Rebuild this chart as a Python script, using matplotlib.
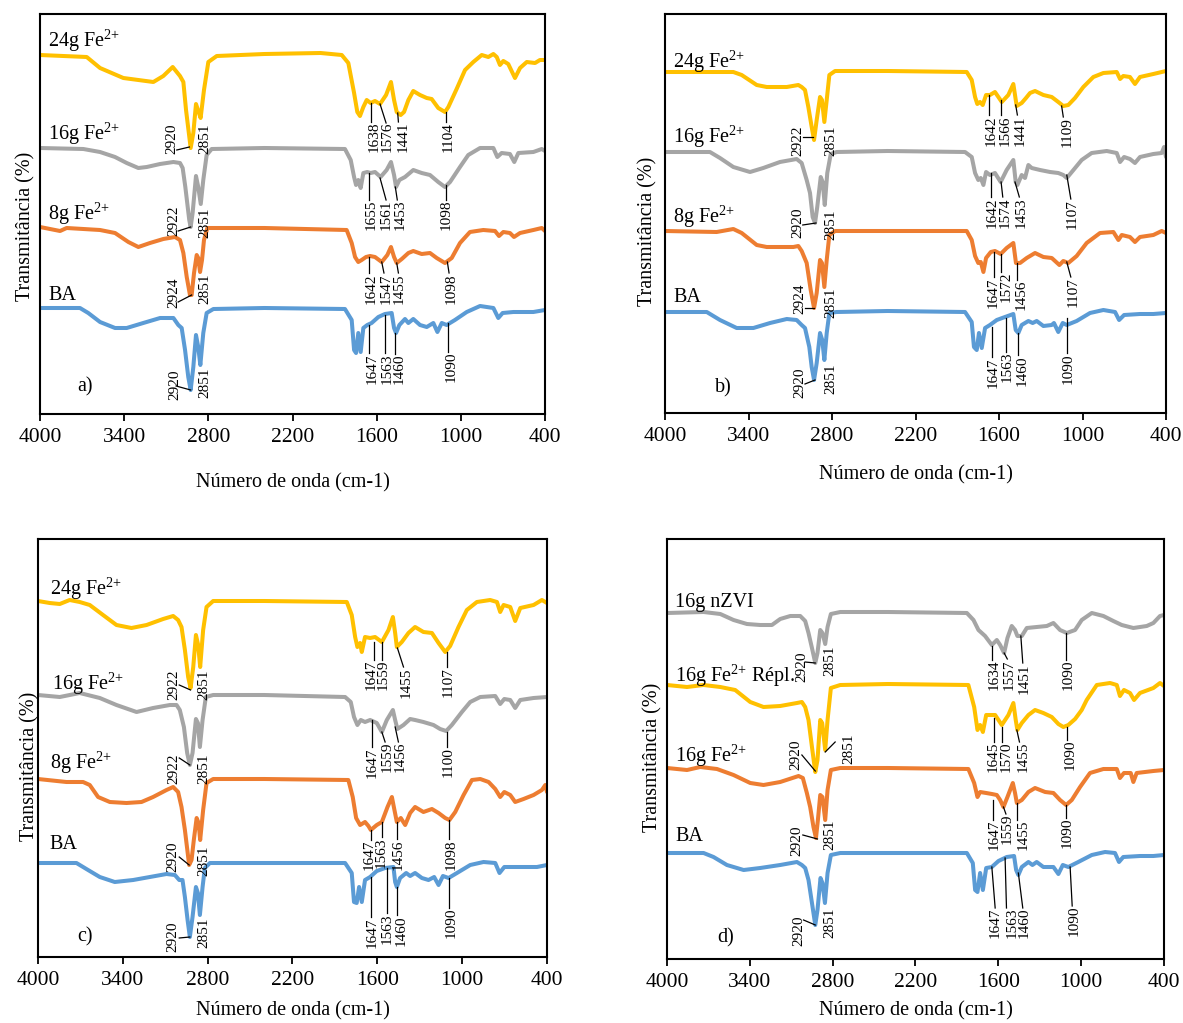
import matplotlib
matplotlib.use("Agg")
import matplotlib.pyplot as plt

plt.rcParams['font.family'] = ['Liberation Serif', 'DejaVu Serif']
plt.rcParams['mathtext.fontset'] = 'custom'
plt.rcParams['mathtext.rm'] = 'Liberation Serif'
plt.rcParams['mathtext.it'] = 'Liberation Serif:italic'

YELLOW = '#FFC000'
GRAY = '#A5A5A5'
ORANGE = '#ED7D31'
BLUE = '#5B9BD5'

X_TICKS = [4000, 3400, 2800, 2200, 1600, 1000, 400]

# ---- spectra (wavenumber cm-1, transmittance a.u. with vertical offset) ----
A_24G = [(4000, 359), (3667, 357), (3572, 346), (3406, 336), (3192, 332), (3121, 338), (3054, 347), (3002, 338),
         (2978, 332), (2959, 304), (2926, 266), (2907, 281), (2888, 310), (2874, 304), (2855, 296), (2831, 324),
         (2800, 352), (2740, 358), (2400, 360), (2000, 361), (1849, 359), (1802, 351), (1761, 321), (1738, 302),
         (1719, 298), (1695, 307), (1671, 314), (1643, 311), (1612, 313), (1576, 310), (1533, 319), (1498, 332),
         (1476, 314), (1457, 302), (1429, 299), (1405, 302), (1374, 314), (1339, 323), (1291, 319), (1243, 316),
         (1208, 315), (1161, 306), (1113, 302), (1089, 307), (1030, 325), (970, 344), (911, 352), (851, 359),
         (804, 357), (768, 360), (744, 357), (721, 349), (697, 353), (662, 350), (614, 336), (578, 346),
         (530, 352), (471, 351), (436, 354), (400, 354)]
A_16G = [(4000, 266), (3691, 265), (3572, 262), (3465, 257), (3382, 251), (3299, 246), (3239, 247), (3144, 250),
         (3049, 252), (3002, 251), (2983, 246), (2964, 227), (2936, 194), (2926, 187), (2912, 201), (2888, 238),
         (2872, 227), (2854, 210), (2836, 234), (2812, 259), (2776, 265), (2400, 266), (1826, 265), (1785, 254),
         (1761, 237), (1747, 229), (1731, 234), (1714, 226), (1695, 241), (1667, 242), (1643, 241), (1612, 242),
         (1572, 237), (1529, 244), (1498, 252), (1476, 239), (1462, 227), (1438, 234), (1398, 237), (1339, 244),
         (1279, 241), (1220, 239), (1161, 232), (1113, 227), (1077, 232), (1006, 247), (947, 259), (863, 266),
         (768, 266), (740, 257), (709, 261), (650, 260), (619, 252), (590, 261), (483, 262), (423, 265), (400, 263)]
A_8G = [(4000, 187), (3857, 183), (3810, 186), (3572, 184), (3465, 181), (3370, 172), (3299, 167), (3216, 171),
        (3121, 175), (3038, 177), (3002, 174), (2978, 161), (2954, 137), (2931, 119), (2919, 119), (2902, 141),
        (2883, 159), (2872, 156), (2859, 142), (2845, 154), (2831, 174), (2807, 186), (2400, 186), (1814, 184),
        (1778, 171), (1754, 157), (1731, 152), (1707, 154), (1676, 157), (1647, 158), (1612, 157), (1564, 152),
        (1524, 159), (1498, 167), (1476, 157), (1457, 151), (1421, 155), (1374, 161), (1339, 163), (1279, 160),
        (1220, 161), (1172, 156), (1113, 151), (1065, 156), (1006, 171), (935, 182), (840, 184), (756, 183),
        (728, 178), (697, 182), (650, 181), (621, 177), (578, 181), (483, 184), (423, 186), (400, 183)]
A_BA = [(4000, 106), (3715, 106), (3656, 101), (3572, 92), (3465, 86), (3382, 86), (3264, 91), (3144, 96),
        (3049, 96), (3014, 89), (2990, 86), (2966, 64), (2943, 37), (2926, 24), (2907, 47), (2888, 79),
        (2872, 67), (2857, 49), (2836, 81), (2812, 101), (2764, 105), (2400, 106), (1826, 105), (1778, 94),
        (1761, 64), (1747, 61), (1731, 81), (1714, 62), (1695, 86), (1667, 89), (1636, 91), (1588, 97),
        (1541, 100), (1493, 101), (1476, 86), (1462, 81), (1438, 89), (1398, 95), (1374, 91), (1339, 95),
        (1291, 89), (1243, 87), (1196, 91), (1167, 82), (1136, 91), (1101, 89), (1042, 94), (958, 102),
        (863, 108), (768, 106), (733, 96), (702, 101), (626, 102), (483, 102), (400, 104)]

B_24G = [(4000, 341), (3509, 341), (3449, 338), (3341, 328), (3269, 326), (3125, 326), (3042, 328), (3018, 326),
         (2994, 323), (2970, 306), (2946, 286), (2929, 273), (2910, 293), (2886, 316), (2872, 313), (2855, 291),
         (2838, 313), (2819, 338), (2778, 342), (2400, 342), (1832, 341), (1796, 333), (1772, 316), (1756, 309),
         (1736, 311), (1717, 308), (1693, 318), (1665, 318), (1629, 321), (1580, 311), (1533, 318), (1497, 329),
         (1485, 318), (1473, 307), (1437, 310), (1406, 315), (1377, 320), (1341, 322), (1281, 318), (1221, 316),
         (1174, 311), (1138, 307), (1102, 308), (1054, 315), (994, 326), (922, 336), (850, 340), (754, 341),
         (730, 334), (707, 337), (659, 336), (623, 329), (587, 336), (491, 339), (431, 341), (400, 342)]
B_16G = [(4000, 261), (3677, 261), (3605, 255), (3509, 246), (3389, 241), (3294, 245), (3174, 251), (3054, 254),
         (3018, 250), (2982, 233), (2958, 220), (2939, 196), (2922, 190), (2906, 206), (2881, 236), (2867, 231),
         (2852, 208), (2834, 240), (2809, 259), (2766, 261), (2400, 262), (1844, 261), (1796, 256), (1772, 240),
         (1749, 233), (1731, 235), (1712, 228), (1693, 241), (1665, 238), (1629, 240), (1588, 231), (1545, 243),
         (1497, 253), (1480, 231), (1468, 228), (1437, 238), (1413, 235), (1389, 248), (1365, 245), (1305, 243),
         (1233, 241), (1174, 240), (1138, 238), (1113, 235), (1077, 241), (1006, 253), (934, 260), (826, 262),
         (754, 260), (730, 251), (701, 256), (659, 254), (623, 250), (587, 256), (491, 259), (431, 260),
         (414, 266), (400, 256)]
B_8G = [(4000, 182), (3629, 181), (3509, 184), (3449, 180), (3341, 168), (3269, 166), (3078, 166), (3042, 167),
        (3018, 162), (2982, 150), (2953, 123), (2929, 105), (2910, 120), (2886, 153), (2872, 150), (2855, 126),
        (2838, 153), (2819, 178), (2778, 182), (2400, 182), (1832, 182), (1796, 173), (1772, 157), (1749, 150),
        (1731, 151), (1712, 141), (1693, 155), (1659, 161), (1629, 162), (1588, 159), (1545, 165), (1497, 170),
        (1478, 150), (1449, 150), (1401, 155), (1341, 160), (1281, 156), (1221, 155), (1166, 148), (1138, 152),
        (1102, 150), (1042, 157), (970, 170), (874, 180), (778, 181), (742, 173), (718, 178), (659, 176),
        (623, 171), (587, 176), (491, 178), (431, 182), (400, 180)]
B_BA = [(4000, 101), (3700, 101), (3605, 93), (3485, 85), (3365, 85), (3245, 90), (3125, 94), (3054, 93),
        (3018, 88), (2994, 85), (2963, 66), (2946, 46), (2929, 33), (2910, 50), (2886, 80), (2870, 73),
        (2855, 53), (2838, 80), (2819, 100), (2766, 101), (2400, 102), (1844, 101), (1796, 91), (1780, 66),
        (1760, 63), (1744, 80), (1724, 65), (1700, 85), (1665, 88), (1616, 93), (1557, 96), (1497, 99),
        (1480, 83), (1461, 80), (1437, 88), (1389, 92), (1358, 90), (1329, 92), (1281, 87), (1221, 88),
        (1205, 90), (1174, 81), (1142, 90), (1113, 88), (1042, 92), (946, 100), (850, 103), (766, 101),
        (737, 93), (701, 98), (587, 99), (491, 99), (400, 100)]

C_24G = [(4000, 356), (3917, 354), (3846, 353), (3776, 357), (3705, 355), (3634, 352), (3540, 342), (3445, 332),
         (3339, 329), (3232, 332), (3115, 338), (3044, 341), (3009, 337), (2985, 330), (2961, 307), (2938, 280),
         (2921, 269), (2902, 290), (2883, 322), (2867, 312), (2853, 290), (2832, 327), (2808, 350), (2761, 356),
         (2400, 356), (1816, 355), (1781, 342), (1757, 320), (1741, 310), (1722, 314), (1710, 305), (1687, 320),
         (1651, 319), (1616, 320), (1568, 315), (1521, 327), (1490, 340), (1474, 324), (1462, 310), (1427, 315),
         (1380, 324), (1333, 330), (1274, 325), (1214, 324), (1167, 314), (1120, 305), (1085, 311), (1026, 330),
         (967, 347), (896, 355), (802, 357), (754, 355), (731, 345), (707, 352), (660, 350), (625, 336),
         (589, 349), (495, 352), (436, 357), (400, 354)]
C_16G = [(4000, 262), (3846, 260), (3705, 264), (3563, 259), (3445, 252), (3303, 245), (3186, 249), (3067, 252),
         (3020, 252), (2997, 247), (2968, 230), (2945, 204), (2926, 192), (2907, 204), (2883, 238), (2869, 234),
         (2855, 210), (2836, 237), (2813, 260), (2761, 262), (2400, 262), (1828, 260), (1788, 255), (1765, 240),
         (1741, 232), (1717, 237), (1687, 235), (1651, 237), (1604, 234), (1568, 225), (1533, 237), (1490, 247),
         (1474, 237), (1458, 228), (1415, 232), (1368, 238), (1333, 237), (1274, 235), (1203, 232), (1156, 228),
         (1113, 226), (1073, 232), (1002, 245), (943, 255), (872, 260), (766, 261), (731, 253), (702, 258),
         (660, 257), (625, 249), (589, 257), (495, 259), (400, 260)]
C_8G = [(4000, 178), (3799, 175), (3681, 175), (3634, 172), (3575, 160), (3492, 155), (3374, 154), (3268, 155),
        (3186, 160), (3091, 167), (3044, 170), (3009, 165), (2985, 150), (2961, 127), (2931, 92), (2914, 97),
        (2898, 117), (2878, 139), (2864, 134), (2853, 117), (2832, 147), (2808, 174), (2761, 178), (2400, 178),
        (1805, 177), (1774, 160), (1750, 139), (1722, 132), (1687, 135), (1663, 131), (1646, 127), (1604, 132),
        (1568, 135), (1528, 150), (1497, 160), (1479, 147), (1462, 135), (1434, 139), (1403, 132), (1368, 144),
        (1333, 150), (1274, 145), (1214, 148), (1167, 144), (1120, 139), (1090, 137), (1049, 145), (990, 162),
        (931, 177), (872, 178), (813, 175), (766, 168), (731, 160), (702, 165), (660, 162), (625, 155),
        (566, 158), (495, 162), (436, 167), (412, 172), (400, 165)]
C_BA = [(4000, 94), (3728, 94), (3646, 87), (3563, 80), (3457, 75), (3327, 77), (3209, 80), (3091, 83),
        (3032, 82), (3001, 77), (2978, 77), (2961, 60), (2942, 37), (2926, 20), (2907, 40), (2883, 70),
        (2869, 64), (2855, 42), (2836, 70), (2820, 89), (2784, 94), (2400, 94), (1828, 94), (1781, 84),
        (1765, 55), (1746, 54), (1729, 70), (1710, 55), (1687, 77), (1651, 80), (1604, 86), (1545, 89),
        (1486, 90), (1474, 75), (1462, 70), (1439, 79), (1396, 84), (1368, 81), (1333, 84), (1285, 79),
        (1238, 77), (1198, 80), (1167, 72), (1136, 81), (1096, 79), (1037, 84), (943, 92), (849, 95),
        (766, 94), (736, 84), (702, 90), (589, 90), (471, 90), (400, 92)]

D_NZVI = [(4000, 346), (3735, 347), (3614, 345), (3518, 339), (3421, 335), (3325, 334), (3240, 334), (3180, 340),
          (3107, 343), (3035, 343), (2999, 338), (2975, 326), (2950, 311), (2926, 296), (2910, 306), (2890, 329),
          (2874, 326), (2854, 315), (2837, 332), (2813, 345), (2745, 347), (2400, 347), (1828, 346), (1780, 339),
          (1744, 329), (1696, 323), (1647, 314), (1611, 319), (1587, 314), (1558, 306), (1534, 321), (1503, 333),
          (1479, 329), (1462, 323), (1430, 323), (1394, 331), (1322, 332), (1249, 333), (1201, 336), (1153, 329),
          (1104, 326), (1044, 329), (996, 339), (923, 346), (839, 343), (767, 338), (706, 334), (622, 331),
          (525, 333), (477, 336), (429, 343), (400, 344)]
D_REPL = [(4000, 274), (3855, 272), (3735, 274), (3614, 272), (3506, 269), (3397, 257), (3301, 252), (3180, 253),
          (3059, 256), (3023, 257), (2999, 252), (2975, 239), (2950, 212), (2926, 187), (2910, 199), (2890, 239),
          (2876, 236), (2854, 209), (2837, 239), (2813, 271), (2745, 274), (2400, 275), (1817, 274), (1775, 252),
          (1751, 229), (1732, 234), (1712, 227), (1688, 244), (1654, 244), (1623, 244), (1575, 234), (1527, 244),
          (1491, 256), (1474, 239), (1462, 229), (1430, 236), (1382, 244), (1334, 249), (1274, 246), (1213, 242),
          (1165, 235), (1129, 232), (1093, 234), (1044, 240), (996, 249), (960, 259), (887, 274), (791, 276),
          (742, 274), (719, 263), (690, 269), (646, 266), (617, 259), (574, 266), (477, 271), (429, 276), (400, 273)]
D_16G = [(4000, 191), (3855, 189), (3759, 192), (3638, 190), (3518, 184), (3397, 176), (3301, 174), (3180, 177),
         (3047, 183), (3016, 181), (2987, 166), (2963, 152), (2939, 132), (2921, 121), (2907, 139), (2890, 164),
         (2874, 162), (2854, 139), (2837, 169), (2813, 189), (2745, 191), (2400, 191), (1817, 190), (1775, 176),
         (1751, 162), (1732, 167), (1688, 166), (1647, 165), (1611, 164), (1587, 159), (1563, 152), (1534, 162),
         (1495, 176), (1479, 166), (1466, 156), (1430, 159), (1382, 167), (1334, 171), (1261, 167), (1201, 166),
         (1153, 159), (1109, 154), (1068, 159), (1008, 172), (936, 186), (839, 190), (742, 190), (719, 181),
         (690, 186), (641, 186), (622, 177), (598, 186), (477, 188), (400, 189)]
D_BA = [(4000, 106), (3735, 106), (3663, 102), (3566, 94), (3445, 89), (3325, 91), (3180, 94), (3059, 97),
        (3023, 94), (2999, 91), (2975, 79), (2950, 56), (2926, 34), (2910, 49), (2888, 81), (2874, 76),
        (2856, 56), (2837, 86), (2813, 104), (2745, 106), (2400, 106), (1828, 106), (1785, 96), (1768, 69),
        (1751, 67), (1732, 86), (1712, 69), (1688, 91), (1647, 92), (1599, 98), (1539, 102), (1486, 103),
        (1471, 89), (1455, 84), (1430, 92), (1382, 97), (1353, 94), (1322, 97), (1274, 92), (1201, 92),
        (1165, 85), (1133, 94), (1093, 92), (1021, 97), (923, 104), (827, 107), (755, 106), (726, 97),
        (695, 102), (574, 103), (477, 103), (400, 104)]

# ---- series names ----
FE = 'F$\\mathrm{e}^{2{+}}$'
NAMES_ABC = ['24g ' + FE, '16g ' + FE, '8g ' + FE, 'BA']
NAMES_D = ['16g nZVI', '16g ' + FE + ' Répl.', '16g ' + FE, 'BA']

# ---- peak labels: (text, x of label, top of label, leader from peak to label) ----
NOTES_A = [('2920', 3061, 291, ((2935, 267), (3025, 264))), ('2851', 2824, 291, None),
           ('1638', 1617, 292, ((1643, 311), (1643, 292))), ('1576', 1524, 292, ((1576, 310), (1533, 291))),
           ('1441', 1414, 292, ((1450, 301), (1445, 292))), ('1104', 1089, 292, ((1108, 302), (1108, 292))),
           ('2922', 3045, 209, ((2926, 187), (3015, 183))), ('2851', 2824, 207, None),
           ('1655', 1636, 214, ((1652, 241), (1652, 214))), ('1561', 1529, 214, ((1576, 236), (1533, 214))),
           ('1453', 1433, 214, ((1467, 227), (1453, 214))), ('1098', 1101, 214, ((1108, 229), (1108, 214))),
           ('2924', 3045, 137, ((2919, 119), (3015, 112))), ('2851', 2824, 141, None),
           ('1642', 1636, 141, ((1652, 157), (1652, 141))), ('1547', 1529, 141, ((1564, 152), (1548, 141))),
           ('1455', 1438, 141, ((1457, 151), (1445, 141))), ('1098', 1072, 141, ((1096, 152), (1084, 141))),
           ('2920', 3038, 44, ((2926, 24), (3030, 28))), ('2851', 2824, 47, None),
           ('1647', 1629, 61, ((1652, 89), (1652, 61))), ('1563', 1524, 61, ((1541, 99), (1541, 61))),
           ('1460', 1438, 61, ((1467, 81), (1467, 60))), ('1090', 1072, 62, ((1089, 91), (1089, 62)))]
NOTES_B = [('2922', 3042, 288, ((2935, 276), (3006, 276))), ('2851', 2809, 287, None),
           ('1642', 1659, 298, ((1672, 318), (1672, 298))), ('1566', 1557, 298, ((1585, 313), (1585, 298))),
           ('1441', 1449, 298, ((1480, 308), (1468, 298))), ('1109', 1113, 296, ((1150, 307), (1138, 296))),
           ('2920', 3042, 205, ((2915, 190), (3010, 188))), ('2851', 2809, 203, None),
           ('1642', 1652, 216, ((1659, 240), (1659, 216))), ('1574', 1557, 216, ((1585, 231), (1573, 216))),
           ('1453', 1444, 216, ((1485, 231), (1454, 216))), ('1107', 1077, 214, ((1113, 238), (1084, 214))),
           ('2924', 3030, 130, ((2929, 105), (2994, 105))), ('2851', 2809, 126, None),
           ('1647', 1645, 136, ((1636, 161), (1636, 136))), ('1572', 1550, 141, ((1585, 159), (1585, 141))),
           ('1456', 1444, 133, ((1468, 150), (1468, 133))), ('1107', 1070, 136, ((1113, 151), (1084, 136))),
           ('2920', 3030, 46, ((2922, 33), (2994, 29))), ('2851', 2809, 50, None),
           ('1647', 1641, 56, ((1653, 86), (1653, 56))), ('1563', 1540, 61, ((1550, 95), (1550, 61))),
           ('1460', 1437, 58, ((1461, 80), (1461, 58))), ('1090', 1102, 60, ((1113, 95), (1113, 60)))]
NOTES_C = [('2922', 3039, 287, ((2921, 267), (3001, 272))), ('2851', 2827, 287, None),
           ('1647', 1647, 297, ((1623, 315), (1623, 297))), ('1559', 1561, 297, ((1568, 315), (1568, 297))),
           ('1455', 1396, 290, ((1458, 309), (1415, 290))), ('1107', 1096, 290, ((1108, 305), (1108, 290))),
           ('2922', 3039, 204, ((2926, 192), (3001, 199))), ('2851', 2827, 204, None),
           ('1647', 1639, 210, ((1639, 237), (1639, 210))), ('1559', 1528, 215, ((1568, 225), (1545, 215))),
           ('1456', 1439, 215, ((1474, 230), (1451, 215))), ('1100', 1096, 210, ((1108, 225), (1108, 210))),
           ('2920', 3044, 115, ((2931, 92), (3001, 100))), ('2851', 2827, 112, None),
           ('1647', 1656, 117, ((1646, 127), (1646, 117))), ('1563', 1575, 120, ((1568, 135), (1568, 120))),
           ('1456', 1451, 118, ((1462, 135), (1462, 118))), ('1098', 1080, 118, ((1096, 137), (1096, 118))),
           ('2920', 3044, 35, ((2926, 20), (3001, 19))), ('2851', 2827, 39, None),
           ('1647', 1639, 40, ((1646, 80), (1646, 40))), ('1563', 1528, 44, ((1533, 89), (1533, 44))),
           ('1460', 1434, 42, ((1462, 70), (1462, 42))), ('1090', 1080, 49, ((1093, 79), (1093, 49)))]
NOTES_D = [('2920', 3023, 307, ((2926, 296), (3000, 297))), ('2851', 2823, 313, None),
           ('1634', 1631, 299, ((1647, 313), (1647, 299))), ('1557', 1520, 300, ((1558, 306), (1535, 300))),
           ('1451', 1414, 296, ((1437, 323), (1423, 296))), ('1090', 1093, 299, ((1113, 326), (1113, 299))),
           ('2920', 3064, 219, ((2926, 188), (3023, 204))), ('2851', 2685, 226, ((2854, 207), (2782, 217))),
           ('1645', 1640, 217, ((1630, 241), (1630, 217))), ('1570', 1544, 217, ((1572, 232), (1572, 217))),
           ('1455', 1423, 217, ((1466, 229), (1447, 217))), ('1090', 1080, 219, ((1104, 232), (1104, 219))),
           ('2920', 3059, 134, ((2910, 120), (3016, 124))), ('2851', 2818, 139, None),
           ('1647', 1631, 139, ((1636, 159), (1636, 139))), ('1559', 1534, 145, ((1563, 152), (1545, 145))),
           ('1455', 1423, 139, ((1462, 156), (1462, 139))), ('1090', 1104, 141, ((1111, 154), (1111, 141))),
           ('2920', 3047, 44, ((2926, 34), (3011, 39))), ('2851', 2823, 51, None),
           ('1647', 1623, 51, ((1647, 92), (1623, 51))), ('1563', 1503, 51, ((1551, 101), (1541, 51))),
           ('1460', 1414, 51, ((1455, 86), (1423, 51))), ('1090', 1051, 53, ((1080, 92), (1065, 53)))]

FIG_W, FIG_H = 1183, 1023


def add_panel(fig, box, ylim, curves, names, name_pos, notes, letter, letter_pos, ylab_pos, xpad):
    left, top, right, bottom = box
    ax = fig.add_axes([left / FIG_W, 1 - bottom / FIG_H, (right - left) / FIG_W, (bottom - top) / FIG_H])
    for pts, color in curves:
        wn, t = zip(*pts)
        ax.plot(wn, t, color=color, lw=2.9, solid_joinstyle='round', solid_capstyle='round', zorder=2)
    for name, (x, y) in zip(names, name_pos):
        ax.text(x, y, name, fontsize=14.5, ha='left', va='baseline', zorder=4)
    for txt, x, ytop, lead in notes:
        ax.text(x, ytop, txt, rotation=90, ha='center', va='top', fontsize=11, zorder=4)
        if lead is not None:
            (x0, y0), (x1, y1) = lead
            ax.plot([x0, x1], [y0, y1], color='black', lw=0.9, zorder=3)
    ax.text(letter_pos[0], letter_pos[1], letter, fontsize=14.5, ha='center', va='center')
    ax.set_xlim(4000, 400)
    ax.set_ylim(0, ylim)
    ax.set_xticks(X_TICKS)
    ax.set_xticklabels([str(v) for v in X_TICKS])
    ax.set_yticks([])
    ax.tick_params(axis='x', direction='out', length=5, width=1.3, labelsize=15.5, pad=5)
    for s in ax.spines.values():
        s.set_linewidth(1.5)
    ax.set_xlabel('Número de onda (cm-1)', fontsize=14.5, labelpad=xpad)
    ax.set_ylabel('Transmitância (%)', fontsize=14.5)
    ax.yaxis.set_label_coords(ylab_pos[0], ylab_pos[1])
    return ax


fig = plt.figure(figsize=(FIG_W / 100, FIG_H / 100), dpi=100)

add_panel(fig, (40, 14, 545, 414), 400,
          [(A_BA, BLUE), (A_8G, ORANGE), (A_16G, GRAY), (A_24G, YELLOW)],
          NAMES_ABC, [(3943, 367), (3943, 274), (3943, 194), (3943, 114)],
          NOTES_A, 'a)', (3680, 27), (-0.009, 0.47), 19)
add_panel(fig, (665, 14, 1166, 413), 399,
          [(B_BA, BLUE), (B_8G, ORANGE), (B_16G, GRAY), (B_24G, YELLOW)],
          NAMES_ABC, [(3940, 345), (3940, 270), (3940, 190), (3940, 111)],
          NOTES_B, 'b)', (3581, 25), (-0.015, 0.456), 14)
add_panel(fig, (38, 539, 547, 957), 418,
          [(C_BA, BLUE), (C_8G, ORANGE), (C_16G, GRAY), (C_24G, YELLOW)],
          NAMES_ABC, [(3917, 362), (3900, 267), (3917, 188), (3917, 108)],
          NOTES_C, 'c)', (3669, 20), (0.003, 0.457), 8)
add_panel(fig, (667, 539, 1164, 959), 420,
          [(D_BA, BLUE), (D_16G, ORANGE), (D_REPL, YELLOW), (D_NZVI, GRAY)],
          NAMES_D, [(3940, 352), (3940, 277), (3940, 197), (3940, 118)],
          NOTES_D, 'd)', (3578, 21), (-0.009, 0.48), 7)

fig.savefig('out.png', dpi=100)
